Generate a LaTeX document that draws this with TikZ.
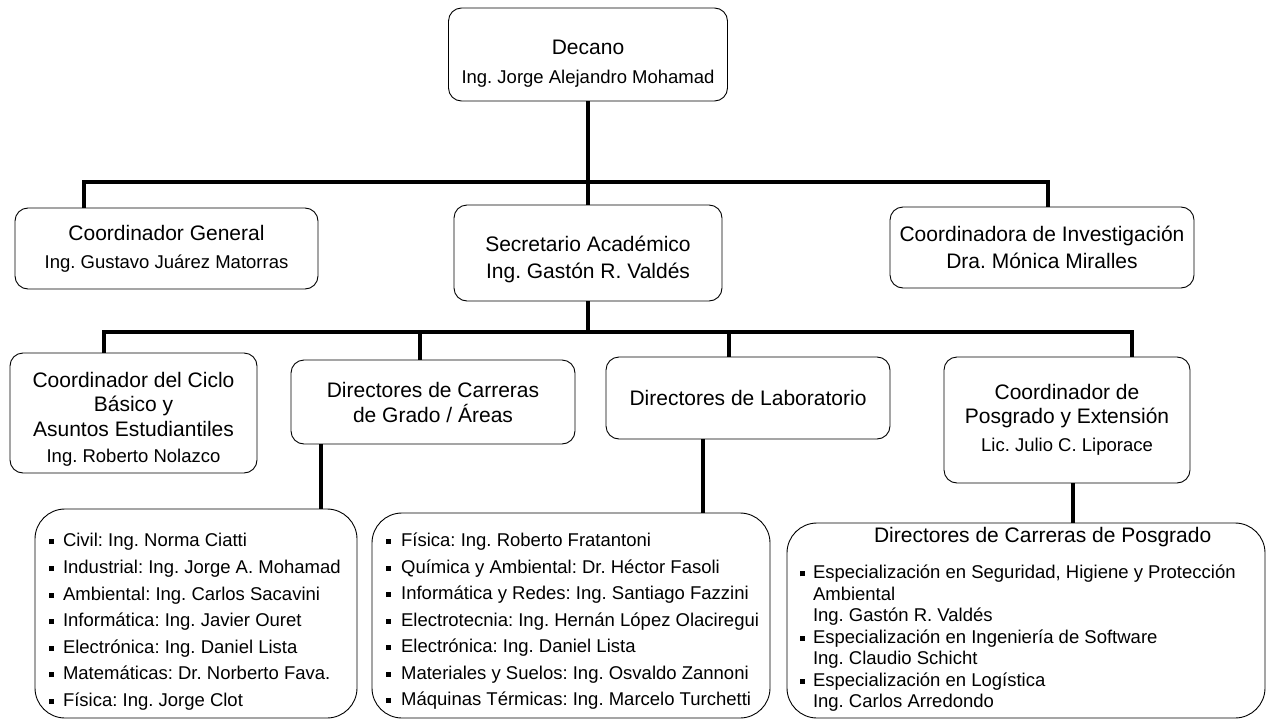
\documentclass[tikz,border=0pt]{standalone}
\usepackage{fontspec}
\setmainfont{Liberation Sans}
\usepackage{tikz}
\usetikzlibrary{calc}
\frenchspacing

\newcommand{\nm}[1]{{\fontsize{18.5}{24}\selectfont #1}}
\newcommand{\itm}[1][14pt]{\makebox[#1][l]{\rule[2.5pt]{5pt}{5pt}}}

\begin{document}
\begin{tikzpicture}[x=1pt, y=-1pt,
    box/.style={draw, line width=0.9pt, rounded corners=13pt, align=center,
        inner sep=0pt, font=\fontsize{21}{24.5}\selectfont},
    listbox/.style={draw, line width=0.9pt, rounded corners=30pt, inner sep=0pt},
    conn/.style={line width=3.6pt}]

    \path[use as bounding box, fill=white] (0,0) rectangle (1272,720);

    % -------------------------
    % Top levels
    % -------------------------
    \node[box, minimum width=279pt, minimum height=93pt] (decano) at (588,54.5)
        {\rule{0pt}{33pt}Decano\\[4pt]\nm{Ing. Jorge Alejandro Mohamad}};

    \node[box, minimum width=303pt, minimum height=81pt] (cgen) at (166.5,248.5)
        {Coordinador General\\[3.5pt]\nm{Ing. Gustavo Juárez Matorras}};
    \node[box, minimum width=268pt, minimum height=96pt] (secretario) at (588,253)
        {\rule{0pt}{29pt}Secretario Académico\\[2.5pt]Ing. Gastón R. Valdés};
    \node[box, minimum width=304pt, minimum height=81pt] (cinv) at (1042,247.5)
        {Coordinadora de Investigación\\[2.5pt]Dra. Mónica Miralles};

    % -------------------------
    % Under the Secretario
    % -------------------------
    \node[box, minimum width=247pt, minimum height=120pt] (cic) at (133.5,413)
        {\rule{0pt}{27pt}Coordinador del Ciclo\\Básico y\\Asuntos Estudiantiles\\[1.5pt]\nm{Ing. Roberto Nolazco}};
    \node[box, minimum width=284pt, minimum height=84pt] (dcar) at (433,402)
        {Directores de Carreras\\[0.5pt]de Grado / Áreas};
    \node[box, minimum width=284pt, minimum height=82pt] (dlab) at (748,398)
        {Directores de Laboratorio};
    \node[box, minimum width=246pt, minimum height=126pt] (cpos) at (1067,420)
        {Coordinador de\\Posgrado y Extensión\\[3.5pt]\nm{Lic. Julio C. Liporace}};

    % -------------------------
    % Lists
    % -------------------------
    \node[listbox] (grado) at (196,613.5) {\parbox[c][209pt][t]{322pt}{%
        \raggedright\setlength\leftskip{14pt}\fontsize{18.5}{26.6}\selectfont
        \vspace*{24.5pt}%
        \itm Civil: Ing. Norma Ciatti\\
        \itm Industrial: Ing. Jorge A. Mohamad\\
        \itm Ambiental: Ing. Carlos Sacavini\\
        \itm Informática: Ing. Javier Ouret\\
        \itm Electrónica: Ing. Daniel Lista\\
        \itm Matemáticas: Dr. Norberto Fava.\\
        \itm Física: Ing. Jorge Clot}};

    \node[listbox] (lab) at (571,615.5) {\parbox[c][205pt][t]{398pt}{%
        \raggedright\setlength\leftskip{14pt}\fontsize{18.5}{26.5}\selectfont
        \vspace*{20pt}%
        \itm[10pt] Física: Ing. Roberto Fratantoni\\
        \itm[10pt] Química y Ambiental: Dr. Héctor Fasoli\\
        \itm[10pt] Informática y Redes: Ing. Santiago Fazzini\\
        \itm[10pt] Electrotecnia: Ing. Hernán López Olaciregui\\
        \itm[10pt] Electrónica: Ing. Daniel Lista\\
        \itm[10pt] Materiales y Suelos: Ing. Osvaldo Zannoni\\
        \itm[10pt] Máquinas Térmicas: Ing. Marcelo Turchetti}};

    \node[listbox] (posg) at (1026,620.5) {\parbox[c][195pt][t]{478pt}{%
        \raggedright\setlength\leftskip{13pt}\fontsize{18.5}{21.5}\selectfont
        \vspace*{4.2pt}%
        \hspace*{74pt}{\fontsize{21}{21.5}\selectfont Directores de Carreras de Posgrado}\\[15pt]
        \itm[13pt]Especialización en Seguridad, Higiene y Protección\\
        \hspace*{13pt}Ambiental\\
        \hspace*{13pt}Ing. Gastón R. Valdés\\
        \itm[13pt]Especialización en Ingeniería de Software\\
        \hspace*{13pt}Ing. Claudio Schicht\\
        \itm[13pt]Especialización en Logística\\
        \hspace*{13pt}Ing. Carlos Arredondo}};

    % -------------------------
    % Connectors
    % -------------------------
    \coordinate (topbar) at (588,182);
    \coordinate (midbar) at (588,332);

    \draw[conn] (decano.south) -- (secretario.north);
    \draw[conn] ([xshift=-82.5pt]cgen.north) |- (topbar) -| ([xshift=6pt]cinv.north);

    \draw[conn] (secretario.south) -- (midbar);
    \draw[conn] ([xshift=-29.5pt]cic.north) |- (midbar) -| ([xshift=65pt]cpos.north);
    \draw[conn] ([xshift=-13pt]dcar.north) -- ([xshift=-13pt]dcar.north |- midbar);
    \draw[conn] ([xshift=-19pt]dlab.north) -- ([xshift=-19pt]dlab.north |- midbar);

    \draw[conn] ([xshift=-112pt]dcar.south) -- ([xshift=-112pt]dcar.south |- grado.north);
    \draw[conn] ([xshift=-45pt]dlab.south) -- ([xshift=-45pt]dlab.south |- lab.north);
    \draw[conn] ([xshift=6pt]cpos.south) -- ([xshift=6pt]cpos.south |- posg.north);

\end{tikzpicture}
\end{document}
